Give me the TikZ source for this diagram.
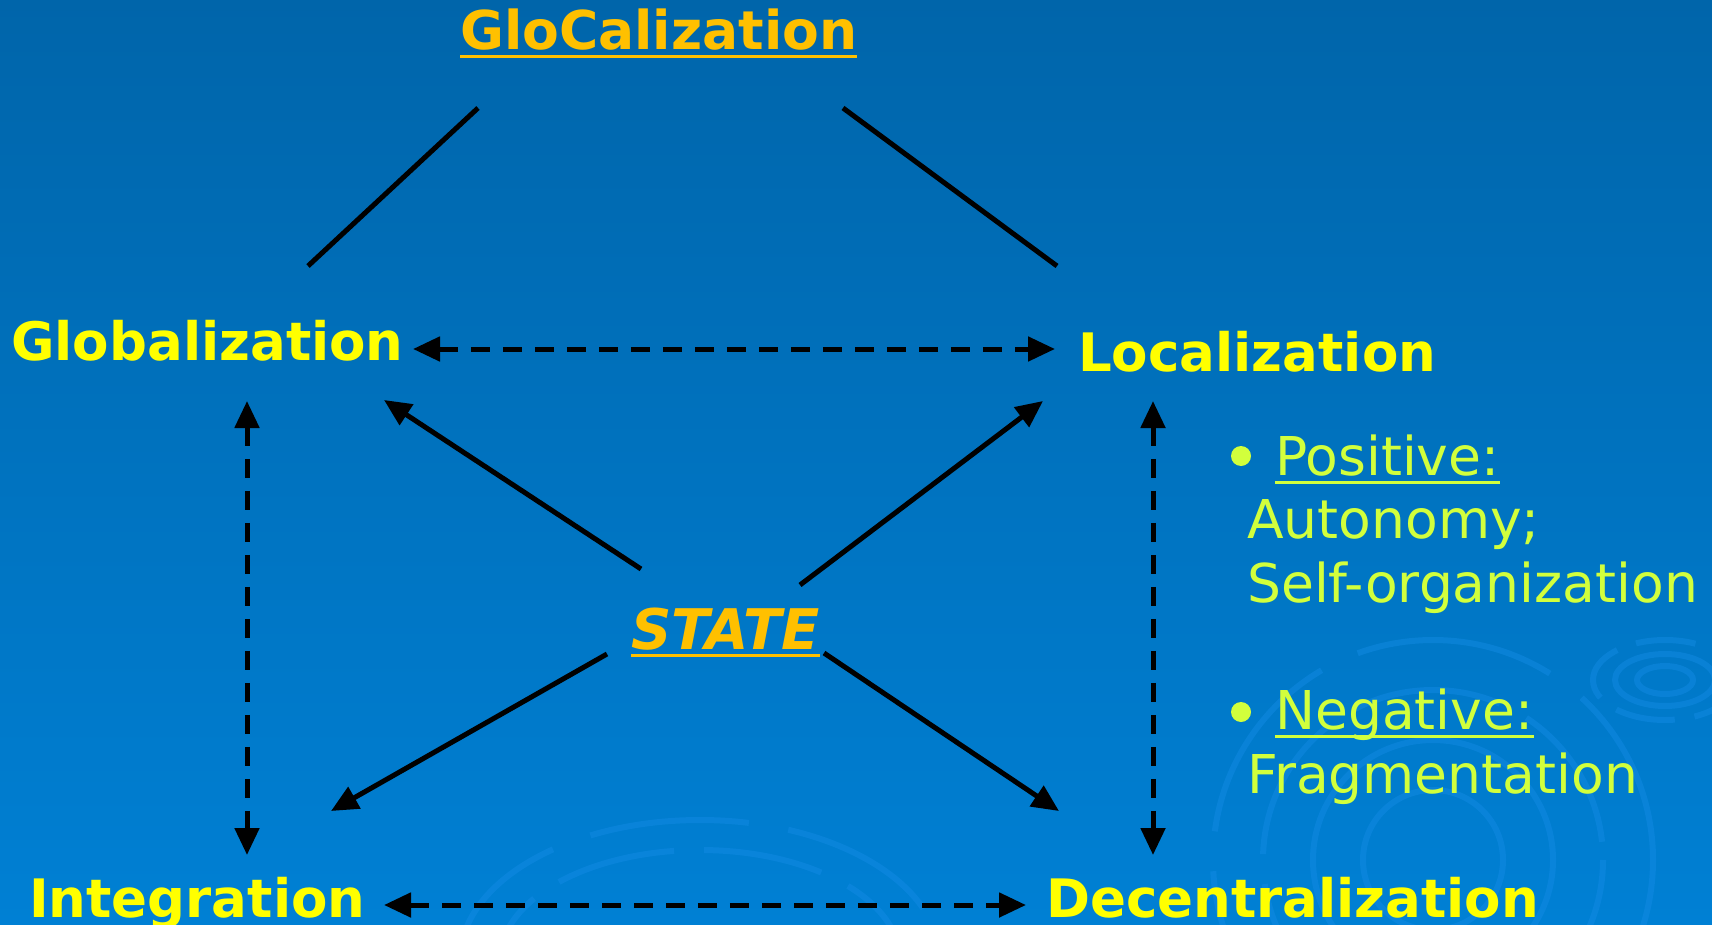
\documentclass[tikz,border=0pt]{standalone}
\usepackage{fontspec}
\setmainfont{DejaVu Sans}
\usetikzlibrary{arrows.meta}
\definecolor{bgtop}{RGB}{0,101,170}
\definecolor{bgbot}{RGB}{0,128,212}
\definecolor{ripple}{RGB}{20,140,230}
\definecolor{titleorange}{RGB}{255,192,0}
\definecolor{termyellow}{RGB}{255,255,0}
\definecolor{notegreen}{RGB}{210,255,60}
\tikzset{
  term/.style={inner sep=0pt, anchor=base west, text=termyellow, font=\fontsize{53}{60}\selectfont\bfseries},
  orangelabel/.style={inner sep=0pt, anchor=base west, text=titleorange},
  note/.style={inner sep=0pt, anchor=base west, text=notegreen, font=\fontsize{53.5}{60}\selectfont},
  dot/.style={circle, fill=notegreen, inner sep=0pt, minimum size=20pt},
  link/.style={line width=5pt, black},
  arr/.style={line width=5pt, black, -{Triangle[length=27pt,width=24pt]}},
  dbl/.style={line width=5pt, black, dash pattern=on 19pt off 13pt, {Triangle[length=27pt,width=24pt]}-{Triangle[length=27pt,width=24pt]}},
  rip/.style={ripple, line width=6pt, opacity=0.45}
}
\begin{document}
\begin{tikzpicture}[x=1pt,y=-1pt]
\shade[top color=bgtop, bottom color=bgbot] (0,0) rectangle (1712,925);
\useasboundingbox (0,0) rectangle (1712,925);
% faint ripples
\begin{scope}
\clip (0,0) rectangle (1712,925);
\draw[rip] (1433,860) circle (70);
\draw[rip] (1433,860) circle (120);
\draw[rip, dash pattern=on 150pt off 30pt] (1433,860) circle (170);
\draw[rip, dash pattern=on 200pt off 40pt] (1433,860) circle (220);
\draw[rip] (1665,680) ellipse (28 and 14);
\draw[rip] (1665,680) ellipse (50 and 26);
\draw[rip, dash pattern=on 60pt off 20pt] (1665,680) ellipse (72 and 40);
\draw[rip, dash pattern=on 120pt off 30pt] (700,960) ellipse (200 and 110);
\draw[rip, dash pattern=on 160pt off 40pt] (700,960) ellipse (240 and 140);
\end{scope}
% nodes
\node[orangelabel, font=\fontsize{53.5}{62}\selectfont\bfseries] (glo) at (460,50) {GloCalization};
\draw[titleorange, line width=3pt] ([yshift=-7pt]glo.base west) -- ([yshift=-7pt]glo.base east);
\node[term] (glob) at (11,360) {Globalization};
\node[term] (loc) at (1078,371) {Localization};
\node[term] (int) at (29,917) {Integration};
\node[term] (dec) at (1046,917) {Decentralization};
\node[orangelabel, font=\fontsize{56}{62}\selectfont\bfseries\itshape] (state) at (631,649) {STATE};
\draw[titleorange, line width=3pt] ([yshift=-6pt]state.base west) -- ([yshift=-6pt]state.base east);
% notes
\node[dot] (b1) at (1241,456) {};
\node[note] (pos) at (1275,475) {Positive:};
\draw[notegreen, line width=3pt] ([yshift=-7pt]pos.base west) -- ([yshift=-7pt]pos.base east);
\node[note] (aut) at (1247,538) {Autonomy;};
\node[note] (self) at (1247,602) {Self-organization};
\node[dot] (b2) at (1241,712) {};
\node[note] (neg) at (1275,729) {Negative:};
\draw[notegreen, line width=3pt] ([yshift=-7pt]neg.base west) -- ([yshift=-7pt]neg.base east);
\node[note] (frag) at (1247,793) {Fragmentation};
% connector end points
\coordinate (gloL) at (478,108);
\coordinate (gloR) at (843,108);
\coordinate (globT) at (308,266);
\coordinate (locT) at (1057,266);
\coordinate (globE) at (413,349);
\coordinate (locW) at (1055,349);
\coordinate (globS) at (247,401);
\coordinate (intN) at (247,855);
\coordinate (locS) at (1153,401);
\coordinate (decN) at (1153,855);
\coordinate (intE) at (384,905);
\coordinate (decW) at (1026,905);
\coordinate (stNW) at (641,569);
\coordinate (stNE) at (800,585);
\coordinate (stSW) at (607,654);
\coordinate (stSE) at (824,653);
\coordinate (globSE) at (384,400);
\coordinate (locSW) at (1043,401);
\coordinate (intNE) at (331,811);
\coordinate (decNW) at (1059,811);
% connectors
\draw[link] (globT) -- (gloL);
\draw[link] (gloR) -- (locT);
\draw[dbl] (globE) -- (locW);
\draw[dbl] (globS) -- (intN);
\draw[dbl] (locS) -- (decN);
\draw[dbl] (intE) -- (decW);
\draw[arr] (stNW) -- (globSE);
\draw[arr] (stNE) -- (locSW);
\draw[arr] (stSW) -- (intNE);
\draw[arr] (stSE) -- (decNW);
\end{tikzpicture}
\end{document}
